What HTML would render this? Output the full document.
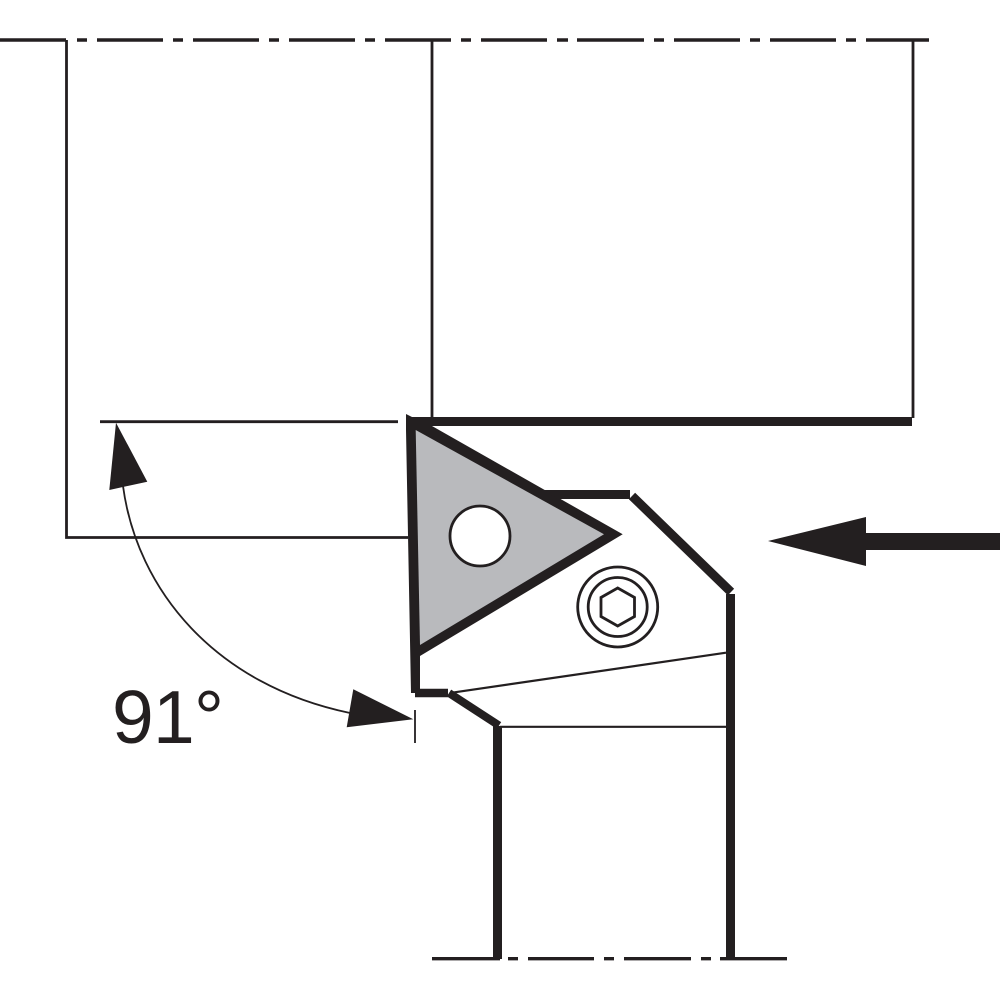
<!DOCTYPE html>
<html><head><meta charset="utf-8"><style>html,body{margin:0;padding:0;background:#fff}svg{display:block}</style></head>
<body>
<svg width="1000" height="1000" viewBox="0 0 1000 1000" xmlns="http://www.w3.org/2000/svg">
<rect width="1000" height="1000" fill="#fff"/>
<g stroke="#231f20" fill="none">
  <!-- centre lines -->
  <path stroke-width="3.4" d="M0 40H66M77 40H87M97 40H163M173 40H183M193 40H259M269 40H279M289 40H355M365 40H375M385 40H451M461 40H471M481 40H547M557 40H568M577 40H644M654 40H664M674 40H740M750 40H760M770 40H836M846 40H856M866 40H929"/>
  <path stroke-width="3.4" d="M432 958.7H500M508 958.7H518M528 958.7H594M604 958.7H614M624 958.7H691M701 958.7H711M720 958.7H787"/>
  <!-- thin outlines -->
  <path stroke-width="2.8" d="M66.5 40V537.5H408M432 40V418M913 40V418M100 421.7H398"/>
  <path stroke-width="2.2" d="M452 692.7L726 652.7M500 726.8H727"/>
  <path stroke-width="1.8" d="M415 710V743M123 486C137 590 215 685 350 713"/>
  <!-- insert -->
  <path fill="#231f20" stroke="none" d="M406 414L412 417H912V426H432L622.7 534.3L420 656V693H411L406 430Z"/>
  <path fill="#b9babd" stroke="none" d="M415.7 430L604 534.3L420 645Z"/>
  <circle cx="480" cy="536" r="30" fill="#fff" stroke-width="2.8"/>
  <!-- clamp outline -->
  <path fill="#231f20" stroke="none" d="M543 490H630V499H558Z"/>
  <path stroke-width="9" d="M632 496L731 592"/>
  <path stroke-width="9" d="M730.5 594V959"/>
  <path stroke-width="9" d="M497.5 726V959"/>
  <path stroke-width="8.5" d="M415 693H448"/>
  <path stroke-width="8" d="M449 693L499 725.5"/>
  <!-- screw -->
  <g stroke-width="2.8">
    <circle cx="617.7" cy="607" r="40"/>
    <circle cx="617.7" cy="607" r="29.5"/>
    <path d="M617.7 588L634.5 597.5V616.5L617.7 626L601 616.5V597.5Z"/>
  </g>
</g>
<g fill="#231f20">
  <path d="M116 422.7L147.3 481.7L109.3 490Z"/>
  <path d="M413.3 719.3L353.3 689.3L346.7 727.3Z"/>
  <path d="M768 541L866 517V533H1000V550H866V566Z"/>
  <text x="112" y="743" font-family="'Liberation Sans',sans-serif" font-size="75" textLength="112">91°</text>
</g>
</svg>
</body></html>
